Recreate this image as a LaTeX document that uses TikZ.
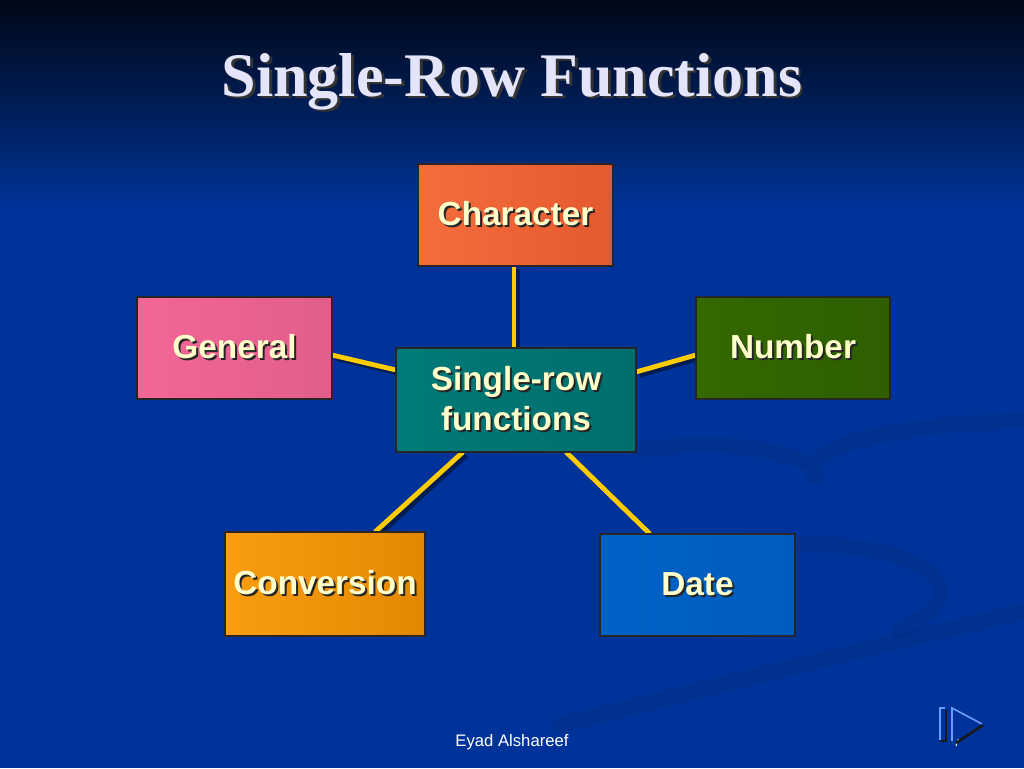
\documentclass[tikz,border=0pt]{standalone}
\usepackage{fontspec}
\usetikzlibrary{calc}
\newfontfamily\arialfont{Liberation Sans}
\newfontfamily\timesfont{Liberation Serif}
\definecolor{bgA}{HTML}{000818}
\definecolor{bgB}{HTML}{001D55}
\definecolor{bgC}{HTML}{003399}
\definecolor{cream}{HTML}{FFFFCC}
\definecolor{lav}{HTML}{E4E4FA}
\definecolor{linkyel}{HTML}{FFCC00}
\definecolor{navlight}{HTML}{6F9BFF}
\newcommand\myshad[3]{\leavevmode\rlap{\hspace{#1}\raisebox{-#1}{\textcolor{#2}{#3}}}#3}
\pgfdeclarelayer{bglayer}
\pgfdeclarelayer{connlayer}
\pgfsetlayers{bglayer,connlayer,main}
\tikzset{
  box/.style={draw=black!85, line width=0.9pt, outer sep=0pt, inner sep=2pt,
    text=cream, font=\arialfont\bfseries\fontsize{25}{30}\selectfont, align=center},
  conn/.style={draw=linkyel, line width=3.6pt},
  connshadow/.style={draw=black, opacity=0.45, line width=3.6pt},
  swirl/.style={draw=black, opacity=0.06, line width=12pt, line cap=round}
}
\begin{document}
\begin{tikzpicture}[x=0.75pt,y=-0.75pt]
\useasboundingbox (0,0) rectangle (1024,768);
\begin{pgfonlayer}{bglayer}
  \fill[bgC] (0,0) rectangle (1024,768);
  \shade[top color=bgA, bottom color=bgC, middle color=bgB] (0,0) rectangle (1024,210);
  \path[swirl] (1030,420) .. controls (880,425) and (795,450) .. (815,478);
  \path[swirl] (1030,610) .. controls (860,650) and (700,690) .. (560,725);
  \path[swirl] (790,545) .. controls (920,540) and (990,590) .. (900,630);
  \path[swirl] (640,450) .. controls (700,440) and (760,445) .. (800,460);
\end{pgfonlayer}

% title
\node[anchor=base, font=\timesfont\bfseries\fontsize{46.5}{50}\selectfont, text=lav]
  (title) at (512,96) {\myshad{2.2pt}{black!80}{Single-Row Functions}};

% boxes
\node[box, minimum width=146.25pt, minimum height=76.5pt,
  left color={rgb,255:red,245;green,108;blue,60}, right color={rgb,255:red,228;green,90;blue,48}]
  (chr) at (515.5,215) {\myshad{1.5pt}{black!85}{Character}};
\node[box, minimum width=146.25pt, minimum height=76.5pt,
  left color={rgb,255:red,244;green,102;blue,152}, right color={rgb,255:red,224;green,94;blue,140}]
  (gen) at (234.5,348) {\myshad{1.5pt}{black!85}{General}};
\node[box, minimum width=145.5pt, minimum height=76.5pt,
  left color={rgb,255:red,52;green,104;blue,0}, right color={rgb,255:red,46;green,94;blue,0}]
  (num) at (793,348) {\myshad{1.5pt}{black!85}{Number}};
\node[box, minimum width=180pt, minimum height=78pt,
  left color={rgb,255:red,0;green,122;blue,120}, right color={rgb,255:red,0;green,110;blue,110}]
  (ctr) at (516,400) {\myshad{1.5pt}{black!85}{Single-row}\\\myshad{1.5pt}{black!85}{functions}};
\node[box, minimum width=150pt, minimum height=78pt,
  left color={rgb,255:red,250;green,158;blue,16}, right color={rgb,255:red,226;green,136;blue,0}]
  (conv) at (325,584) {\myshad{1.5pt}{black!85}{Conversion}};
\node[box, minimum width=146.25pt, minimum height=76.5pt,
  left color={rgb,255:red,0;green,98;blue,200}, right color={rgb,255:red,0;green,92;blue,188}]
  (date) at (697.5,585) {\myshad{1.5pt}{black!85}{Date}};

% connectors
\begin{pgfonlayer}{connlayer}
\begin{scope}[transform canvas={xshift=2.5pt,yshift=-2.5pt}]
  \draw[connshadow] ($(chr.south)+(-1.5,0)$) -- ($(ctr.north)+(-2,0)$);
  \draw[connshadow] ($(gen.east)+(0,7)$) -- ($(ctr.west)+(0,-30)$);
  \draw[connshadow] ($(num.west)+(0,7)$) -- ($(ctr.east)+(0,-28)$);
  \draw[connshadow] ($(ctr.south)+(-53,0)$) -- ($(conv.north)+(50,0)$);
  \draw[connshadow] ($(ctr.south)+(50,0)$) -- ($(date.north)+(-47.5,0)$);
\end{scope}
  \draw[conn] ($(chr.south)+(-1.5,0)$) -- ($(ctr.north)+(-2,0)$);
  \draw[conn] ($(gen.east)+(0,7)$) -- ($(ctr.west)+(0,-30)$);
  \draw[conn] ($(num.west)+(0,7)$) -- ($(ctr.east)+(0,-28)$);
  \draw[conn] ($(ctr.south)+(-53,0)$) -- ($(conv.north)+(50,0)$);
  \draw[conn] ($(ctr.south)+(50,0)$) -- ($(date.north)+(-47.5,0)$);
\end{pgfonlayer}

% footer
\node[font=\arialfont\fontsize{12.5}{14}\selectfont, text=white, anchor=base]
  (foot) at (512,746) {Eyad Alshareef};
\node[font=\arialfont\fontsize{10}{12}\selectfont, text=white, anchor=base]
  (pnum) at (957,746) {7};

% navigation icon
\fill[bgC] (950,706) rectangle (990,739);
\draw[black!90, line width=1.2pt] (946,710) -- (946,741) -- (940,741);
\draw[navlight, line width=1.2pt] (945,708) -- (940,708) -- (940,740);
\draw[navlight, line width=1.2pt] (952,741) -- (952,708) -- (982,724);
\draw[black!90, line width=2pt] (983,725) -- (956,743);
\end{tikzpicture}
\end{document}
